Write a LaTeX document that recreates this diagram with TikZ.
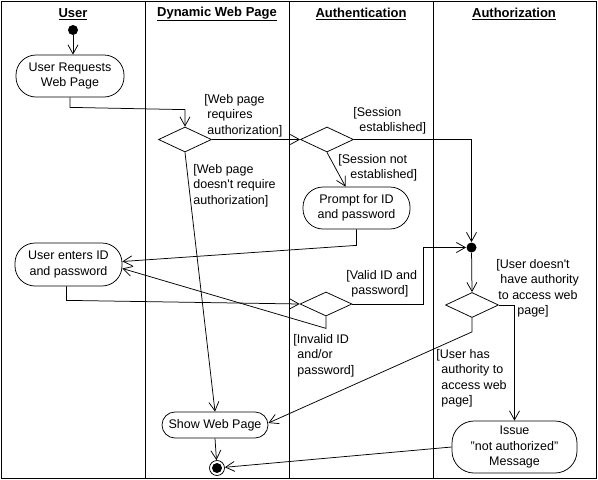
\documentclass[tikz,border=0pt]{standalone}
\usepackage{fontspec}
\setmainfont{Liberation Sans}
\usetikzlibrary{arrows.meta,shapes.geometric}
\begin{document}
\begin{tikzpicture}[x=1pt,y=-1pt,line width=0.75pt,
  every node/.style={font=\fontsize{12.5}{15.5}\selectfont},
  act/.style={draw,inner sep=0pt,align=center},
  dec/.style={draw,diamond,inner sep=0pt,minimum width=53pt,minimum height=25pt},
  dot/.style={circle,fill=black,inner sep=0pt,minimum size=10pt},
  lbl/.style={anchor=north west,align=left,inner sep=0pt},
  lane/.style={font=\fontsize{13}{15}\selectfont\bfseries},
  flow/.style={-{Straight Barb[length=9pt,width=10pt]}}]
\useasboundingbox (0,0) rectangle (598,480);
% frame and lanes
\draw (1,1) rectangle (596.5,478);
\draw (145,1) -- (145,478);
\draw (289,1) -- (289,478);
\draw (433,1) -- (433,478);
\node[lane] (t1) at (73,14) {\underline{User}};
\node[lane] (t2) at (217,14) {\underline{Dynamic Web Page}};
\node[lane] (t3) at (361,14) {\underline{Authentication}};
\node[lane] (t4) at (514,14) {\underline{Authorization}};
% nodes
\node[dot] (start) at (73,30) {};
\node[act,minimum width=108pt,minimum height=42pt,rounded corners=20pt] (req) at (70,76) {User Requests\\Web Page};
\node[dec] (d1) at (185,139.5) {};
\node[dec] (d2) at (327,139.5) {};
\node[act,minimum width=107pt,minimum height=42pt,rounded corners=20pt] (prompt) at (356.5,208) {Prompt for ID\\and password};
\node[act,minimum width=107pt,minimum height=43pt,rounded corners=20pt] (enter) at (68.5,264.5) {User enters ID\\and password};
\node[dec,minimum width=52pt,minimum height=24pt] (d3) at (326,304) {};
\node[dot] (join) at (471.5,247.5) {};
\node[dec] (d4) at (472,305) {};
\node[act,minimum width=106pt,minimum height=26pt,rounded corners=13pt] (show) at (215,425) {Show Web Page};
\node[act,minimum width=125pt,minimum height=52pt,rounded corners=22pt] (issue) at (514.5,447) {Issue\\"not authorized"\\Message};
\node[circle,draw,inner sep=0pt,minimum size=15pt,
  path picture={\fill (path picture bounding box.center) circle (5pt);}] (end) at (217,468) {};
% connectors
\draw[flow] (start) -- (start |- req.north);
\draw[flow] (req.south) -- ++(0,10) -- ([yshift=17pt]d1.north) -- (d1.north);
\draw[flow] (d1.east) -- (d2.west);
\draw[flow] (d1.south) -- (show.north);
\draw[flow] (d2.east) -| (join);
\draw[flow] (d2.south) -- ([xshift=-11pt]prompt.north);
\draw[flow] (prompt.south) -- ++(0,16) -- ([yshift=3pt]enter.east);
\draw[flow] ([xshift=-2pt]enter.south) -- ++(0,14) -- (d3.west);
\draw[flow] (d3.east) -- ++(71,0) |- (join);
\draw[flow] (d3.south) -- ++(0,12) -- ([yshift=-4pt]enter.east);
\draw[flow] (join) -- (d4.north);
\draw[flow] (d4.east) -| (issue.north);
\draw[flow] (d4.south) -- ++(0,14) -- ([yshift=2pt]show.east);
\draw[flow] (show.south) -- (end);
\draw[flow] (issue.west) -- (end);
% labels
\node[lbl] (l1) at (204,94) {[Web page\\\hspace*{3pt}requires\\\hspace*{3pt}authorization]};
\node[lbl] (l2) at (353,107) {[Session\\\hspace*{6pt}established]};
\node[lbl] (l3) at (338,154) {[Session not\\\hspace*{12pt}established]};
\node[lbl] (l4) at (193,164) {[Web page\\doesn\textquotesingle t require\\authorization]};
\node[lbl] (l5) at (346,270) {[Valid ID and\\\hspace*{5pt}password]};
\node[lbl] (l6) at (496,259) {[User doesn\textquotesingle t\\\hspace*{4pt}have authority\\\hspace*{2pt}to access web\\\hspace*{21pt}page]};
\node[lbl] (l7) at (436,349) {[User has\\\hspace*{5pt}authority to\\\hspace*{5pt}access web\\\hspace*{5pt}page]};
\node[lbl] (l8) at (293,334) {[Invalid ID\\\hspace*{4pt}and/or\\\hspace*{4pt}password]};
\end{tikzpicture}
\end{document}
